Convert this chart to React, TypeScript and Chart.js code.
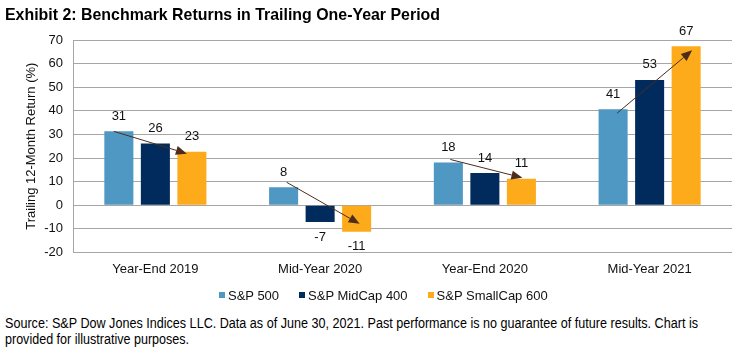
import React, { useEffect, useLayoutEffect, useRef } from "react";
import { Chart, registerables } from "chart.js";

Chart.register(...registerables);

const categories = ["Year-End 2019", "Mid-Year 2020", "Year-End 2020", "Mid-Year 2021"];
const seriesNames = ["S&P 500", "S&P MidCap 400", "S&P SmallCap 600"];
const sp500 = [31.3, 7.6, 18.1, 40.7];
const midcap400 = [26.1, -7.1, 13.6, 53.1];
const smallcap600 = [22.7, -11.3, 11.2, 67.3];
const yMin = -20;
const yMax = 70;
const yStep = 10;

const seriesColors = ["#4F98C3", "#002B5C", "#FDAB1B"];
// pixel nudges of the hand-drawn arrows: [startDx, startDy, endDx, endDy]
const arrowNudges = [
  [-5, 0, -5, 2],
  [3, -5, 3, -8],
  [2, -3, 1, -1],
  [4, 4, 6, 4],
];

const FONT = "'Liberation Sans', Arial, sans-serif";

const labelsAndArrows = {
  id: "labelsAndArrows",
  afterDatasetsDraw(chart: any) {
    const ctx = chart.ctx;
    ctx.save();
    ctx.font = `13px ${FONT}`;
    ctx.fillStyle = "#111";
    ctx.textAlign = "center";
    ctx.textBaseline = "middle";
    chart.data.datasets.forEach((ds: any, di: number) => {
      const meta = chart.getDatasetMeta(di);
      meta.data.forEach((bar: any, i: number) => {
        const v = ds.data[i];
        const y = v >= 0 ? bar.y - 15 : bar.y + 15;
        ctx.fillText(String(Math.round(v)), bar.x, y);
      });
    });
    const m0 = chart.getDatasetMeta(0).data;
    const m2 = chart.getDatasetMeta(2).data;
    ctx.strokeStyle = "#4E2C1C";
    ctx.fillStyle = "#4E2C1C";
    ctx.lineWidth = 1;
    for (let i = 0; i < m0.length; i++) {
      const n = arrowNudges[i];
      const x1 = m0[i].x + n[0];
      const y1 = m0[i].y + n[1];
      const x2 = m2[i].x + n[2];
      const y2 = m2[i].y + n[3];
      const ang = Math.atan2(y2 - y1, x2 - x1);
      const hl = 11;
      const hw = 4.5;
      const bx = x2 - hl * Math.cos(ang);
      const by = y2 - hl * Math.sin(ang);
      ctx.beginPath();
      ctx.moveTo(x1, y1);
      ctx.lineTo(bx, by);
      ctx.stroke();
      ctx.beginPath();
      ctx.moveTo(x2, y2);
      ctx.lineTo(bx + hw * Math.sin(ang), by - hw * Math.cos(ang));
      ctx.lineTo(bx - hw * Math.sin(ang), by + hw * Math.cos(ang));
      ctx.closePath();
      ctx.fill();
    }
    ctx.restore();
  },
};

function FitText(props: { target: number; style: React.CSSProperties; children: React.ReactNode }) {
  const ref = useRef<HTMLSpanElement | null>(null);
  useLayoutEffect(() => {
    const el = ref.current;
    if (!el) return;
    el.style.transform = "none";
    const w = el.getBoundingClientRect().width;
    if (w > 0) el.style.transform = `scaleX(${props.target / w})`;
  }, [props.target]);
  return (
    <span
      ref={ref}
      style={{ display: "inline-block", whiteSpace: "nowrap", transformOrigin: "0 0", ...props.style }}
    >
      {props.children}
    </span>
  );
}

function BarChart() {
  const ref = useRef<HTMLCanvasElement | null>(null);
  useEffect(() => {
    if (!ref.current) return;
    const values = [sp500, midcap400, smallcap600];
    const chart = new Chart(ref.current, {
      type: "bar",
      data: {
        labels: categories,
        datasets: seriesNames.map((name, i) => ({
          label: name,
          data: values[i],
          backgroundColor: seriesColors[i],
          borderWidth: 0,
          categoryPercentage: 0.665,
          barPercentage: 0.795,
        })),
      },
      options: {
        responsive: false,
        animation: false,
        devicePixelRatio: 1,
        layout: { padding: { left: 24, right: 11, top: 20, bottom: 3 } },
        plugins: {
          tooltip: { enabled: false },
          legend: { display: false },
        },
        scales: {
          x: {
            grid: { display: false, drawTicks: false },
            border: { display: false },
            ticks: { color: "#111", font: { family: FONT, size: 13 }, padding: 9, maxRotation: 0 },
          },
          y: {
            min: yMin,
            max: yMax,
            afterFit: (s: any) => {
              s.width = 49;
              s.paddingTop = 0;
              s.paddingBottom = 0;
            },
            ticks: {
              stepSize: yStep,
              color: "#111",
              padding: 10,
              font: { family: FONT, size: 13 },
            },
            grid: { color: "#A6A6A6", drawTicks: false, lineWidth: 1 },
            border: { display: true, color: "#A6A6A6" },
            title: {
              display: true,
              text: "Trailing 12-Month Return (%)",
              color: "#111",
              padding: 0,
              font: { family: FONT, size: 13 },
            },
          },
        },
      },
      plugins: [labelsAndArrows],
    });
    return () => chart.destroy();
  }, []);
  return <canvas ref={ref} width={743} height={269} style={{ display: "block", width: 743, height: 269 }} />;
}

function Legend() {
  return (
    <div
      style={{
        position: "absolute",
        left: 219,
        top: 287,
        height: 16,
        display: "flex",
        alignItems: "center",
        font: `13px ${FONT}`,
        color: "#111",
        whiteSpace: "nowrap",
      }}
    >
      {seriesNames.map((name, i) => (
        <span key={name} style={{ display: "flex", alignItems: "center", marginRight: 20 }}>
          <span style={{ width: 6, height: 6, background: seriesColors[i], marginRight: 3 }} />
          {name}
        </span>
      ))}
    </div>
  );
}

export default function App() {
  return (
    <div style={{ position: "absolute", left: 0, top: 0, width: 743, height: 355, background: "#fff", overflow: "hidden" }}>
      <div style={{ position: "absolute", left: 0, top: 20 }}>
        <BarChart />
      </div>
      <div style={{ position: "absolute", left: 5, top: 5, lineHeight: "20px" }}>
        <FitText target={435} style={{ font: `bold 17px ${FONT}`, color: "#000" }}>
          Exhibit 2: Benchmark Returns in Trailing One-Year Period
        </FitText>
      </div>
      <Legend />
      <div style={{ position: "absolute", left: 5, top: 315, lineHeight: "16px" }}>
        <FitText target={693} style={{ font: `14px ${FONT}`, color: "#000", lineHeight: "16px" }}>
          Source: S&amp;P Dow Jones Indices LLC. Data as of June 30, 2021. Past performance is no guarantee of future results. Chart is
        </FitText>
        <br />
        <FitText target={184} style={{ font: `14px ${FONT}`, color: "#000", lineHeight: "16px" }}>
          provided for illustrative purposes.
        </FitText>
      </div>
    </div>
  );
}
